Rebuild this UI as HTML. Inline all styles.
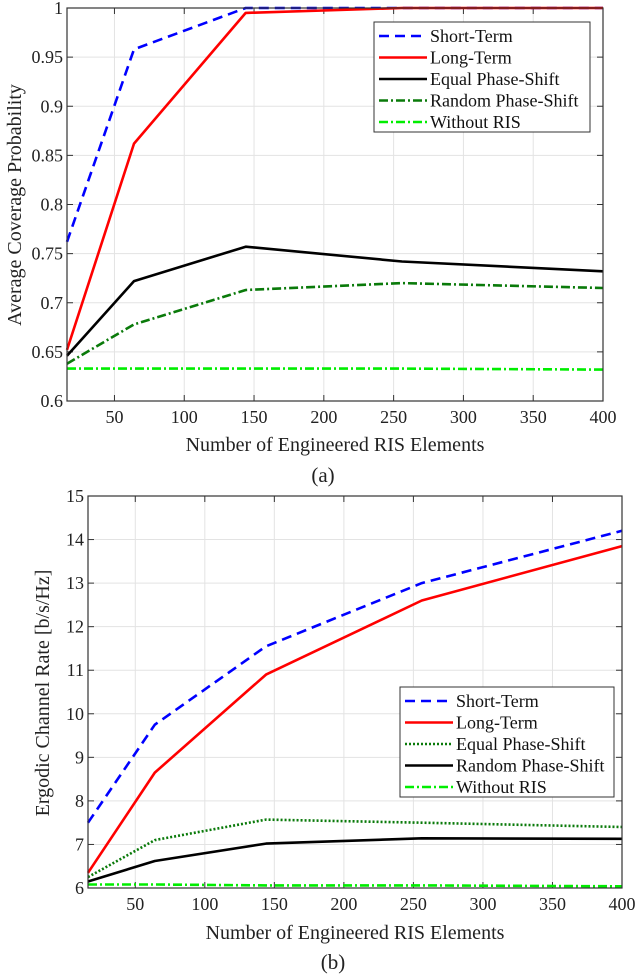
<!DOCTYPE html>
<html><head><meta charset="utf-8"><style>
html,body{margin:0;padding:0;background:#fff;width:640px;height:976px;overflow:hidden}
svg{display:block;font-family:"Liberation Serif",serif}
</style></head><body>
<svg id="fig" width="640" height="976" viewBox="0 0 640 976" xmlns="http://www.w3.org/2000/svg"></svg>
<script>
const xVals = [16, 64, 144, 256, 400];
const xTicks = [50, 100, 150, 200, 250, 300, 350, 400];
const aTicks = [0.6, 0.65, 0.7, 0.75, 0.8, 0.85, 0.9, 0.95, 1];
const aTickLabels = ["0.6","0.65","0.7","0.75","0.8","0.85","0.9","0.95","1"];
const aShort = [0.762, 0.958, 1.0, 1.0, 1.0];
const aLong = [0.652, 0.862, 0.995, 1.0, 1.0];
const aEqual = [0.646, 0.722, 0.757, 0.742, 0.732];
const aRandom = [0.638, 0.678, 0.713, 0.720, 0.715];
const aWithout = [0.633, 0.633, 0.633, 0.633, 0.632];
const bTicks = [6, 7, 8, 9, 10, 11, 12, 13, 14, 15];
const bTickLabels = ["6","7","8","9","10","11","12","13","14","15"];
const bShort = [7.5, 9.75, 11.55, 13.0, 14.2];
const bLong = [6.35, 8.65, 10.9, 12.6, 13.85];
const bEqual = [6.25, 7.1, 7.57, 7.5, 7.4];
const bRandom = [6.15, 6.62, 7.02, 7.14, 7.13];
const bWithout = [6.08, 6.08, 6.06, 6.06, 6.04];

const NS = "http://www.w3.org/2000/svg";
const svg = document.getElementById('fig');
function mk(tag, attrs, parent, text){
  const e = document.createElementNS(NS, tag);
  for (const k in attrs) e.setAttribute(k, attrs[k]);
  if (text !== undefined) e.textContent = text;
  (parent || svg).appendChild(e);
  return e;
}
const styles = {
  short:{stroke:'#0000ff',dash:'10,6',w:2.6},
  long:{stroke:'#ff0000',dash:'',w:2.6},
  black:{stroke:'#000000',dash:'',w:2.6},
  dashdotGreen:{stroke:'#0a7a0a',dash:'9,3,2,3',w:2.6},
  without:{stroke:'#00ee00',dash:'9,3,2,3',w:2.6},
  dotGreen:{stroke:'#0a7a0a',dash:'2,2',w:2.6}
};
function chart(cfg){
  const g = mk('g', {}, svg);
  
  
  const L=cfg.L,R=cfg.R,T=cfg.T,B=cfg.B;
  const sx = v => L + (v-16)/(400-16)*(R-L);
  const sy = v => B - (v-cfg.ymin)/(cfg.ymax-cfg.ymin)*(B-T);
  const grid = mk('g', {}, g);
  
  
  xTicks.forEach(t=>{
    mk('line',{x1:sx(t),x2:sx(t),y1:T,y2:B,stroke:'#e3e3e3','stroke-width':1},grid);
  });
  cfg.yTicks.forEach(t=>{
    mk('line',{x1:L,x2:R,y1:sy(t),y2:sy(t),stroke:'#e3e3e3','stroke-width':1},grid);
  });
  const xa = mk('g', {}, g);
  
  
  xTicks.forEach(t=>{
    const x=sx(t);
    mk('line',{x1:x,x2:x,y1:B,y2:B-6,stroke:'#333','stroke-width':1},xa);
    mk('line',{x1:x,x2:x,y1:T,y2:T+6,stroke:'#333','stroke-width':1},xa);
    const tx = mk('text',{x:x,y:B+22,'text-anchor':'middle','font-size':18,fill:'#222'},xa,String(t));
    
    
  });
  const ya = mk('g', {}, g);
  
  
  cfg.yTicks.forEach((t,i)=>{
    const y=sy(t);
    mk('line',{x1:L,x2:L+6,y1:y,y2:y,stroke:'#333','stroke-width':1},ya);
    mk('line',{x1:R,x2:R-6,y1:y,y2:y,stroke:'#333','stroke-width':1},ya);
    const tx = mk('text',{x:L-4,y:y+6,'text-anchor':'end','font-size':18,fill:'#222'},ya,cfg.yLabels[i]);
    
    
  });
  const series = mk('g', {}, g);
  
  
  cfg.series.forEach(s=>{
    const st = styles[s.style];
    const pts = xVals.map((x,i)=>sx(x).toFixed(1)+','+sy(s.data[i]).toFixed(1)).join(' ');
    const p = mk('polyline',{points:pts,fill:'none',stroke:st.stroke,'stroke-width':st.w,'stroke-dasharray':st.dash,'stroke-linejoin':'round'},series);
    
    
  });
  mk('rect',{x:L,y:T,width:R-L,height:B-T,fill:'none',stroke:'#333','stroke-width':1.2},g);
  const lg = mk('g', {}, g);
  
  
  const lb = cfg.legend;
  mk('rect',{x:lb.x,y:lb.y,width:lb.w,height:lb.h,fill:'#fff',stroke:'#333','stroke-width':1},lg);
  cfg.series.forEach((s,i)=>{
    const st = styles[s.style];
    const y = lb.y + 14 + i*21.5;
    mk('line',{x1:lb.x+5,x2:lb.x+53,y1:y,y2:y,stroke:st.stroke,'stroke-width':st.w,'stroke-dasharray':st.dash},lg);
    const tx = mk('text',{x:lb.x+56,y:y+6,'font-size':18,fill:'#111'},lg,s.label);
    
    
  });
  const xt = mk('text',{x:cfg.xtx,y:cfg.xty,'text-anchor':'middle','font-size':20,fill:'#222'},g,'Number of Engineered RIS Elements');
  
  
  const yt = mk('text',{x:0,y:0,'text-anchor':'middle','font-size':20,fill:'#222',transform:`translate(${cfg.ytx},${cfg.yty}) rotate(-90)`},g,cfg.ytitle);
  
  
  const cap = mk('text',{x:cfg.capx,y:cfg.capy,'text-anchor':'middle','font-size':21,fill:'#222'},g,cfg.cap);
  
  
}
chart({name:'chart-a',L:67,R:603,T:8,B:401,ymin:0.6,ymax:1,yTicks:aTicks,yLabels:aTickLabels,
  series:[
    {key:'short-term',label:'Short-Term',style:'short',data:aShort},
    {key:'long-term',label:'Long-Term',style:'long',data:aLong},
    {key:'equal-phase',label:'Equal Phase-Shift',style:'black',data:aEqual},
    {key:'random-phase',label:'Random Phase-Shift',style:'dashdotGreen',data:aRandom},
    {key:'without-ris',label:'Without RIS',style:'without',data:aWithout}],
  legend:{x:374,y:22,w:216,h:110},
  xtx:335,xty:451,ytx:21,yty:205,ytitle:'Average Coverage Probability',capx:323,capy:482,cap:'(a)'});
chart({name:'chart-b',L:88,R:622,T:496,B:888,ymin:6,ymax:15,yTicks:bTicks,yLabels:bTickLabels,
  series:[
    {key:'short-term',label:'Short-Term',style:'short',data:bShort},
    {key:'long-term',label:'Long-Term',style:'long',data:bLong},
    {key:'equal-phase',label:'Equal Phase-Shift',style:'dotGreen',data:bEqual},
    {key:'random-phase',label:'Random Phase-Shift',style:'black',data:bRandom},
    {key:'without-ris',label:'Without RIS',style:'without',data:bWithout}],
  legend:{x:400,y:687,w:214,h:110},
  xtx:355,xty:939,ytx:49,yty:693,ytitle:'Ergodic Channel Rate [b/s/Hz]',capx:333,capy:969,cap:'(b)'});
</script>
</body></html>
